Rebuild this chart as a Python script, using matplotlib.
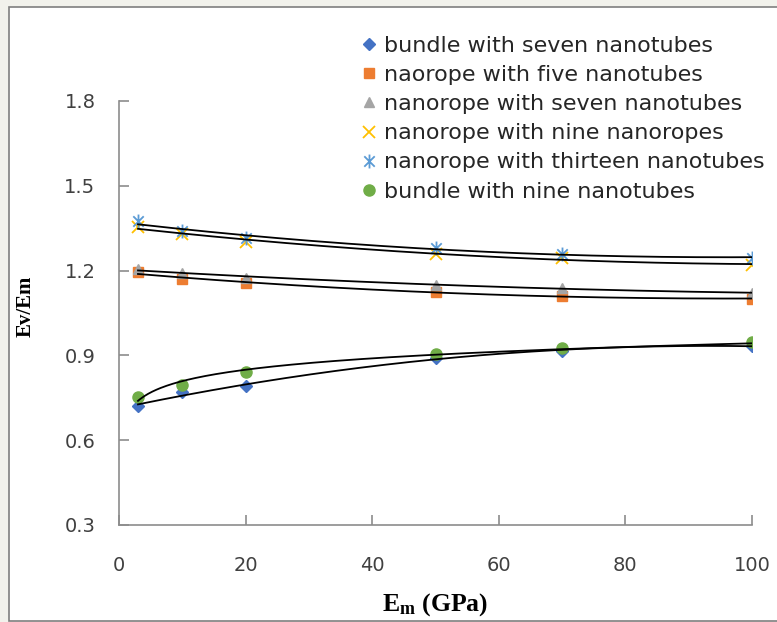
import numpy as np
import matplotlib

matplotlib.use("Agg")
import matplotlib.pyplot as plt
from matplotlib.patches import Rectangle
from matplotlib.path import Path

E_M = [3, 10, 20, 50, 70, 100]
BUNDLE_SEVEN = [0.72, 0.77, 0.79, 0.892, 0.914, 0.934]
ROPE_FIVE = [1.195, 1.17, 1.155, 1.125, 1.11, 1.10]
ROPE_SEVEN = [1.205, 1.19, 1.175, 1.15, 1.14, 1.12]
ROPE_NINE = [1.355, 1.33, 1.30, 1.26, 1.245, 1.22]
ROPE_THIRTEEN = [1.375, 1.34, 1.315, 1.28, 1.26, 1.245]
BUNDLE_NINE = [0.752, 0.795, 0.84, 0.905, 0.925, 0.948]

LABELS = [
    "bundle with seven nanotubes",
    "naorope with five nanotubes",
    "nanorope with seven nanotubes",
    "nanorope with nine nanoropes",
    "nanorope with thirteen nanotubes",
    "bundle with nine nanotubes",
]
# trendline type per series, as picked in the spreadsheet
TRENDS = ["poly", "poly", "poly", "poly", "poly", "log"]

X_TICKS = [0, 20, 40, 60, 80, 100]
Y_TICKS = [0.3, 0.6, 0.9, 1.2, 1.5, 1.8]

# excel style asterisk: vertical bar plus an x
STAR = Path(
    [(0, -1), (0, 1), (-0.75, -0.75), (0.75, 0.75), (-0.75, 0.75), (0.75, -0.75)],
    [Path.MOVETO, Path.LINETO, Path.MOVETO, Path.LINETO, Path.MOVETO, Path.LINETO],
)

STYLES = [
    dict(marker="D", color="#4472c4", ms=6.5, filled=True),
    dict(marker="s", color="#ed7d31", ms=7.5, filled=True),
    dict(marker="^", color="#a5a5a5", ms=7.5, filled=True),
    dict(marker="x", color="#ffc000", ms=9, filled=False),
    dict(marker=STAR, color="#5b9bd5", ms=10, filled=False),
    dict(marker="o", color="#70ad47", ms=8, filled=True),
]

plt.rcParams.update(
    {
        "font.family": "DejaVu Sans",
        "mathtext.fontset": "custom",
        "mathtext.rm": "Liberation Serif:bold",
        "mathtext.bf": "Liberation Serif:bold",
        "mathtext.it": "Liberation Serif:bold",
    }
)

fig = plt.figure(figsize=(7.77, 6.22), dpi=100, facecolor="#f2f2ec")
fig.patches.append(
    Rectangle(
        (9 / 777, 1 / 622), 1.2, 1 - 8 / 622,
        transform=fig.transFigure, facecolor="white",
        edgecolor="#7f7f7f", linewidth=1.2, zorder=-10,
    )
)

ax = fig.add_axes([119 / 777, 1 - 525 / 622, (752 - 119) / 777, (525 - 101) / 622])
ax.set_facecolor("none")

series = [BUNDLE_SEVEN, ROPE_FIVE, ROPE_SEVEN, ROPE_NINE, ROPE_THIRTEEN, BUNDLE_NINE]
x = np.array(E_M, dtype=float)
xs = np.linspace(x.min(), x.max(), 300)

for values, label, style, trend in zip(series, LABELS, STYLES, TRENDS):
    kw = dict(
        marker=style["marker"], markersize=style["ms"], linestyle="none",
        label=label, zorder=3,
    )
    if style["filled"]:
        kw.update(markerfacecolor=style["color"], markeredgecolor=style["color"])
    else:
        kw.update(markerfacecolor="none", markeredgecolor=style["color"],
                  markeredgewidth=1.3)
    ax.plot(x, values, **kw)

    if trend == "log":
        a, b = np.polyfit(np.log(x), values, 1)
        fit = a * np.log(xs) + b
    else:
        fit = np.polyval(np.polyfit(x, values, 2), xs)
    ax.plot(xs, fit, color="black", linewidth=1.3, zorder=4)

ax.set_xlim(0, 100)
ax.set_ylim(0.3, 1.8)
ax.set_xticks(X_TICKS)
ax.set_yticks(Y_TICKS)
ax.set_yticklabels([f"{v:.1f}" for v in Y_TICKS])

for side in ("top", "right"):
    ax.spines[side].set_visible(False)
for side in ("left", "bottom"):
    ax.spines[side].set_color("#8c8c8c")
    ax.spines[side].set_linewidth(1.2)

ax.tick_params(axis="both", direction="in", length=7, width=1.2,
               color="#8c8c8c", labelsize=14, labelcolor="#404040")
ax.tick_params(axis="x", pad=22)
ax.tick_params(axis="y", pad=17)

ax.set_ylabel("Ev/Em", family="Liberation Serif", fontweight="bold",
              fontsize=15)
ax.yaxis.set_label_coords(-0.132, 0.515)
ax.set_xlabel(r"E$_{\mathrm{m}}$ (GPa)", family="Liberation Serif",
              fontweight="bold", fontsize=18.5)
ax.xaxis.set_label_coords(0.5, -0.155)

ax.legend(
    loc="upper left", bbox_to_anchor=(360 / 777, 1 - 36 / 622),
    bbox_transform=fig.transFigure, frameon=False, fontsize=16,
    handlelength=0.8, handletextpad=0.3, labelspacing=0.41, borderpad=0,
    borderaxespad=0, labelcolor="#262626",
)

fig.savefig("out.png", dpi=100, facecolor=fig.get_facecolor())
